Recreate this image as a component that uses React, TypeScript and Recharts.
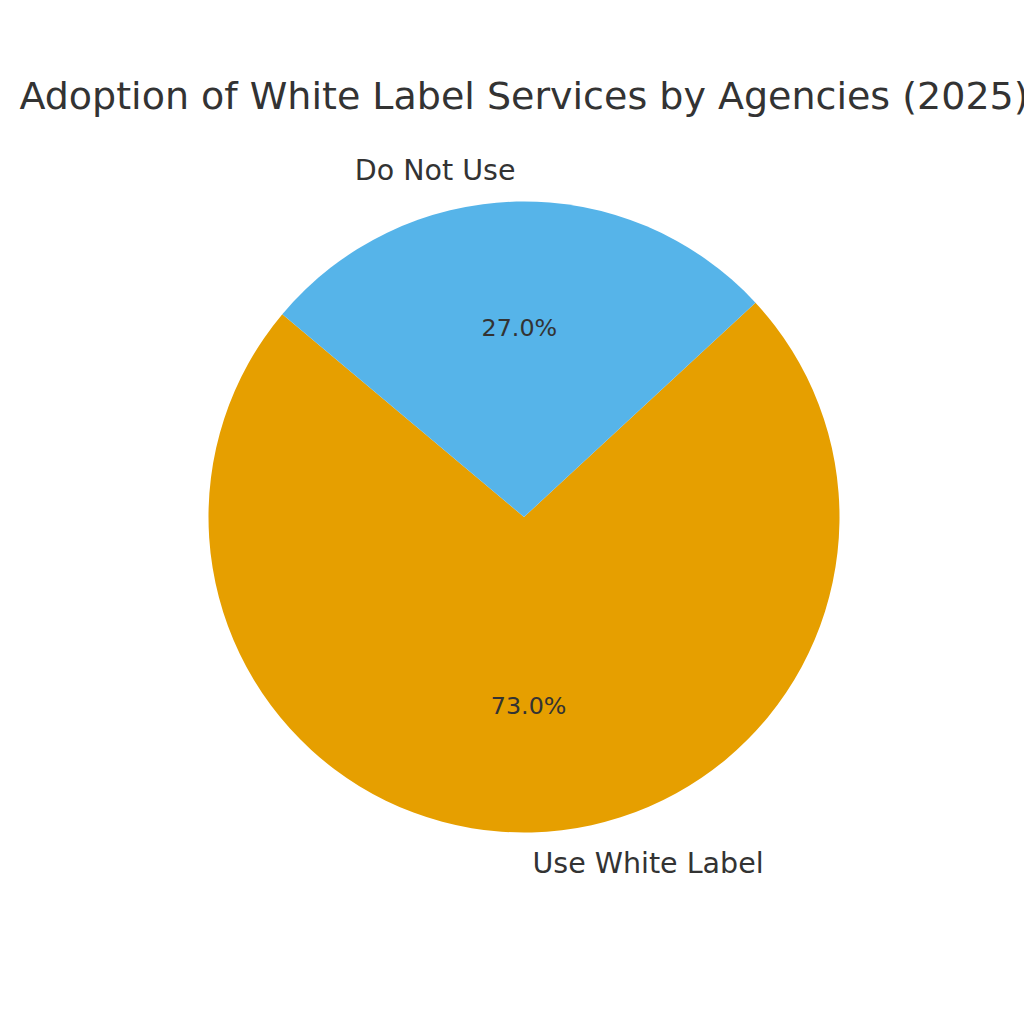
import { Pie, PieChart, Cell } from "recharts"

// Agencies' use of white label services, 2025 (percent)
const categories = ["Use White Label", "Do Not Use"]
const shares = [73, 27]
const colors = ["#E69F00", "#56B4E9"]

const data = categories.map((name, i) => ({ name, value: shares[i] }))

const RAD = Math.PI / 180
const FONT = "DejaVu Sans, sans-serif"

const renderLabels = (props: any) => {
  const { cx, cy, midAngle, outerRadius, percent, name } = props
  const cos = Math.cos(-midAngle * RAD)
  const sin = Math.sin(-midAngle * RAD)
  const lx = cx + outerRadius * 1.1 * cos
  const ly = cy + outerRadius * 1.1 * sin
  const px = cx + outerRadius * 0.6 * cos
  const py = cy + outerRadius * 0.6 * sin
  return (
    <g>
      <text
        x={lx}
        y={ly}
        textAnchor={cos >= 0 ? "start" : "end"}
        dominantBaseline="central"
        fill="#333333"
        fontSize={28.5}
        fontFamily={FONT}
      >
        {name}
      </text>
      <text
        x={px}
        y={py}
        textAnchor="middle"
        dominantBaseline="central"
        fill="#333333"
        fontSize={23.8}
        fontFamily={FONT}
      >
        {(percent * 100).toFixed(1)}%
      </text>
    </g>
  )
}

export default function App() {
  return (
    <div style={{ position: "absolute", top: 0, left: 0, width: 1024, height: 1024, overflow: "hidden", background: "#fff" }}>
      <PieChart width={1024} height={1024}>
        <text x={524} y={96} textAnchor="middle" dominantBaseline="central" fill="#333333" fontSize={38} fontFamily={FONT}>
          Adoption of White Label Services by Agencies (2025)
        </text>
        <Pie
          data={data}
          dataKey="value"
          nameKey="name"
          cx={519}
          cy={512}
          outerRadius={315.5}
          startAngle={140}
          endAngle={500}
          stroke="none"
          label={renderLabels}
          labelLine={false}
          isAnimationActive={false}
        >
          {data.map((d, i) => (
            <Cell key={d.name} fill={colors[i]} />
          ))}
        </Pie>
      </PieChart>
    </div>
  )
}
